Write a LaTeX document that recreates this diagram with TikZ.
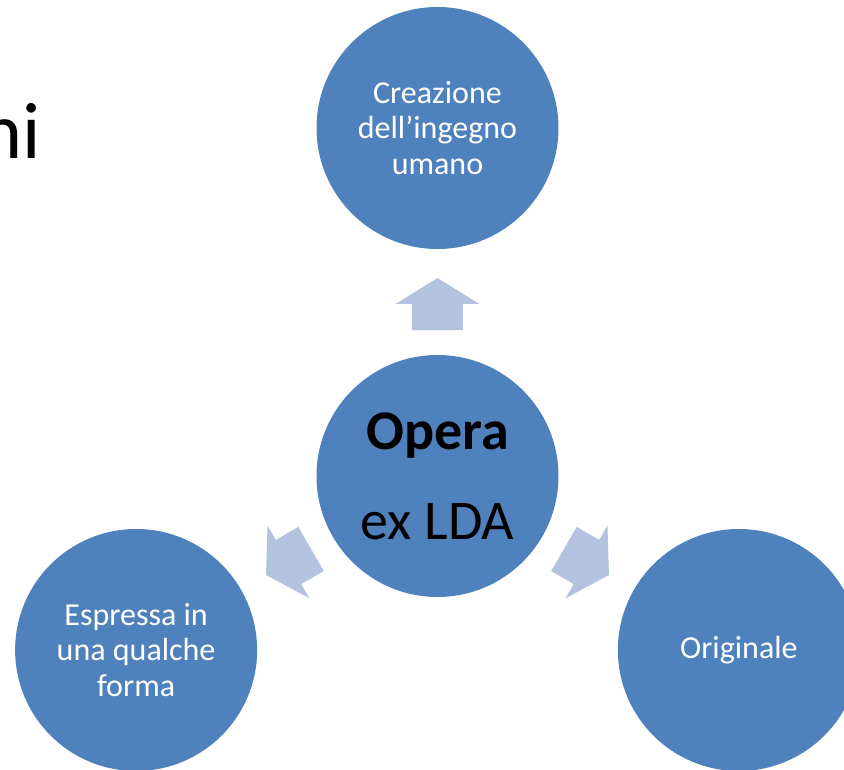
\documentclass[tikz,border=0pt]{standalone}
\usepackage{fontspec}
\setmainfont{Carlito}
\usepackage{tikz}
\usetikzlibrary{positioning}

\definecolor{bubbleblue}{HTML}{4F81BD}
\definecolor{arrowblue}{HTML}{B3C2DE}

\begin{document}
\begin{tikzpicture}
        [bubble/.style={circle, fill=bubbleblue, minimum size=242pt, inner sep=0pt, outer sep=0pt,
                        align=center, text=white, font=\fontsize{32}{35.5}\selectfont},
         blockarrow/.style={fill=arrowblue}]
      \useasboundingbox (-437.5pt,-293pt) rectangle (406.5pt,476pt);
      \node[bubble, text=black, font=\fontsize{56}{67}\selectfont] (opera) at (0,0) {\textbf{Opera}\\[23pt]ex LDA};
      \node[bubble] (ingegno) [above=106pt of opera] {Creazione\\dell’ingegno\\umano};
      \node[bubble] (forma) at (210:348pt) {Espressa in\\una qualche\\forma};
      \node[bubble] (originale) at (-30:348pt) {Originale};
      \node[anchor=base east, inner sep=0pt, font=\fontsize{80}{96}\selectfont] (titolo) at (-396.5pt,317.7pt) {ni};
      % frecce dal centro verso i tre cerchi
      \foreach \a in {90,210,330}
        \fill[blockarrow, shift={(opera.center)}, rotate=\a]
          (146pt,-25.5pt) -- (172pt,-25.5pt) -- (172pt,-42pt) -- (198pt,0pt)
          -- (172pt,42pt) -- (172pt,25.5pt) -- (146pt,25.5pt) -- cycle;
      \end{tikzpicture}
\end{document}
